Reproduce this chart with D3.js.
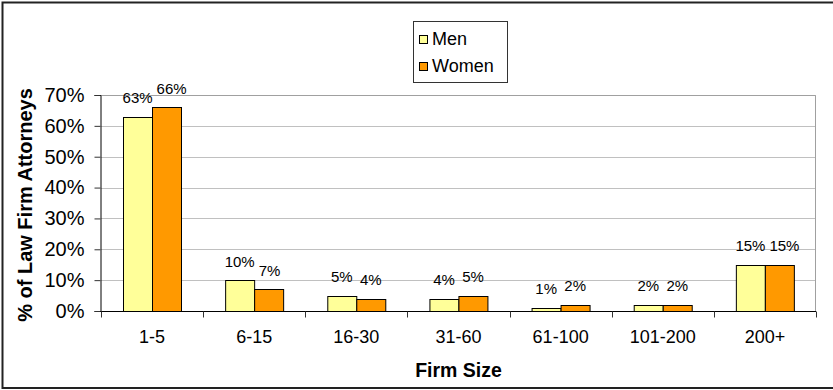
<!DOCTYPE html>
<html>
<head>
<meta charset="utf-8">
<script src="https://cdn.jsdelivr.net/npm/d3@7/dist/d3.min.js"></script>
<style>
  html, body { margin: 0; padding: 0; background: #fff; }
  svg { display: block; font-family: "Liberation Sans", Arial, sans-serif; }
</style>
</head>
<body>
<svg id="chart" width="833" height="390"></svg>
<script>
// Share of law firm attorneys by firm size, men vs. women
const categories = ["1-5", "6-15", "16-30", "31-60", "61-100", "101-200", "200+"];
const seriesNames = ["Men", "Women"];
const menValues = [0.63, 0.10, 0.05, 0.04, 0.01, 0.02, 0.15];
const womenValues = [0.66, 0.07, 0.04, 0.05, 0.02, 0.02, 0.15];
const yTicks = [0, 0.1, 0.2, 0.3, 0.4, 0.5, 0.6, 0.7];
const colors = { Men: "#ffff99", Women: "#ff9900" };

const svg = d3.select("#chart");
const W = 833, H = 390;
const plot = { left: 101, right: 816, top: 95, bottom: 311 };

// outer frame
svg.append("rect")
  .attr("x", 2.5).attr("y", 2.5)
  .attr("width", W + 10).attr("height", H - 4.5)
  .attr("fill", "#fff").attr("stroke", "#222").attr("stroke-width", 2);

const x = d3.scaleBand().domain(categories).range([plot.left, plot.right]).padding(0);
const xs = d3.scaleBand().domain(seriesNames).range([0, x.bandwidth()]).paddingInner(0).paddingOuter(0.76);
const y = d3.scaleLinear().domain([0, 0.7]).range([plot.bottom, plot.top]);

// gridlines
svg.append("g").selectAll("line").data(yTicks.filter(d => d > 0)).join("line")
  .attr("x1", plot.left).attr("x2", plot.right)
  .attr("y1", d => Math.round(y(d)) + 0.5).attr("y2", d => Math.round(y(d)) + 0.5)
  .attr("stroke", "#c0c0c0").attr("stroke-width", 1);

// plot area frame (top + right)
svg.append("path")
  .attr("d", `M${plot.left},${plot.top + 0.5}H${plot.right - 0.5}V${plot.bottom}`)
  .attr("fill", "none").attr("stroke", "#a0a0a0").attr("stroke-width", 1);

// bars
const rows = categories.map((c, i) => ({ cat: c, Men: menValues[i], Women: womenValues[i] }));
const groups = svg.append("g").selectAll("g").data(rows).join("g")
  .attr("transform", d => `translate(${x(d.cat)},0)`);

groups.selectAll("rect").data(d => seriesNames.map(s => ({ s, v: d[s] }))).join("rect")
  .attr("x", d => Math.round(xs(d.s)) + 0.5)
  .attr("y", d => Math.round(y(d.v)) + 0.5)
  .attr("width", Math.round(xs.bandwidth()))
  .attr("height", d => Math.round(y(0)) - Math.round(y(d.v)))
  .attr("fill", d => colors[d.s])
  .attr("stroke", "#000").attr("stroke-width", 1);

// value labels, nudged apart when the pair would collide
const labelSize = 15;
groups.each(function () {
  const g = d3.select(this);
  const labels = g.selectAll("text").data(d => seriesNames.map(s => ({ s, v: d[s] }))).join("text")
    .attr("x", d => xs(d.s) + xs.bandwidth() / 2)
    .attr("y", d => y(d.v) - 13.5)
    .attr("text-anchor", "middle")
    .attr("font-size", labelSize).attr("fill", "#000")
    .text(d => d3.format(".0%")(d.v));
  const nodes = labels.nodes();
  const a = nodes[0].getBBox(), b = nodes[1].getBBox();
  const vOverlap = Math.abs(a.y - b.y) < labelSize * 0.8;
  const gap = 4;
  const overlap = (a.x + a.width + gap) - b.x;
  if (vOverlap && overlap > 0) {
    d3.select(nodes[1]).attr("x", +d3.select(nodes[1]).attr("x") + overlap);
  }
});

// y axis
const yAxis = svg.append("g")
  .attr("transform", `translate(${plot.left - 0.5},0)`)
  .call(d3.axisLeft(y).tickValues(yTicks).tickFormat(d3.format(".0%")).tickSize(6).tickPadding(10));
yAxis.select(".domain").attr("stroke", "#000");
yAxis.selectAll(".tick line").attr("stroke", "#333");
yAxis.selectAll("text").attr("font-size", 20).attr("fill", "#000").attr("font-family", null);

// x axis: labels centred on categories, tick marks on category boundaries
const xAxis = svg.append("g")
  .attr("transform", `translate(0,${plot.bottom + 0.5})`)
  .call(d3.axisBottom(x).tickSize(0).tickPadding(19));
xAxis.select(".domain").attr("stroke", "#000").attr("d", `M${plot.left - 0.5},0H${plot.right}`);
xAxis.selectAll("text").attr("font-size", 18).attr("fill", "#000").attr("font-family", null);
const bounds = categories.map(c => x(c)).concat([plot.right]);
xAxis.append("g").selectAll("line").data(bounds).join("line")
  .attr("x1", d => Math.round(d) + 0.5).attr("x2", d => Math.round(d) + 0.5)
  .attr("y1", 0).attr("y2", 6)
  .attr("stroke", "#333");

// axis titles
svg.append("text")
  .attr("x", (plot.left + plot.right) / 2).attr("y", 377)
  .attr("text-anchor", "middle")
  .attr("font-size", 19.5).attr("font-weight", "bold")
  .text("Firm Size");

svg.append("text")
  .attr("transform", `translate(32,${(plot.top + plot.bottom) / 2 + 2}) rotate(-90)`)
  .attr("text-anchor", "middle")
  .attr("font-size", 20).attr("font-weight", "bold")
  .text("% of Law Firm Attorneys");

// legend
const legend = svg.append("g").attr("transform", "translate(413,21)");
legend.append("rect")
  .attr("x", 0.5).attr("y", 0.5).attr("width", 94).attr("height", 61)
  .attr("fill", "#fff").attr("stroke", "#333").attr("stroke-width", 1);
const items = legend.selectAll("g").data(seriesNames).join("g")
  .attr("transform", (d, i) => `translate(6,${14 + i * 27})`);
items.append("rect")
  .attr("x", 0.5).attr("y", 0.5).attr("width", 8).attr("height", 8)
  .attr("fill", d => colors[d]).attr("stroke", "#000");
items.append("text")
  .attr("x", 13).attr("y", 9.5)
  .attr("font-size", 18).attr("fill", "#000")
  .text(d => d);
</script>
</body>
</html>
